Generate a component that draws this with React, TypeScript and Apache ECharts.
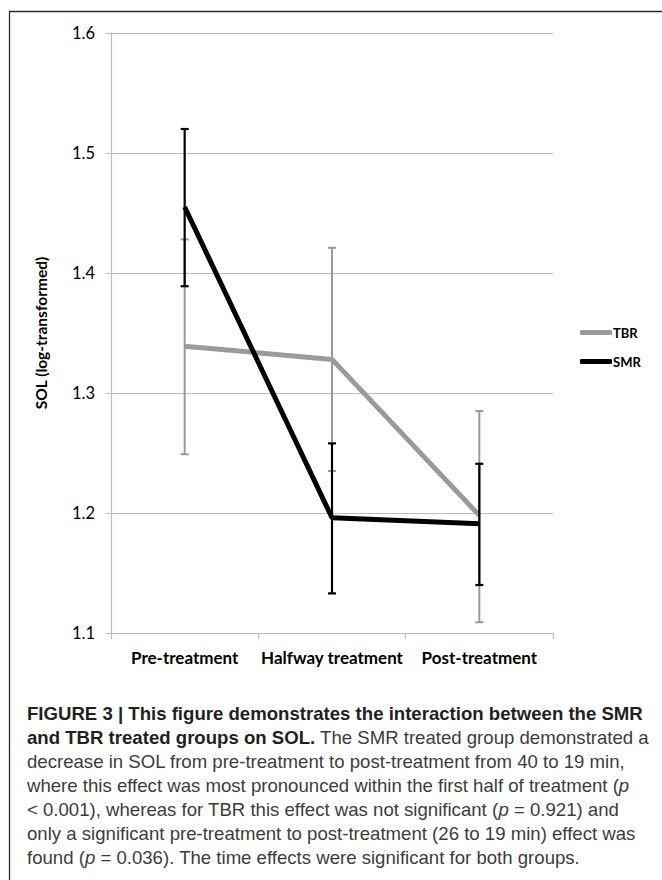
import React, { useEffect, useRef } from "react";
import * as echarts from "echarts";

const categories = ["Pre-treatment", "Halfway treatment", "Post-treatment"];
const seriesNames = ["TBR", "SMR"];
const tbrMean = [1.339, 1.328, 1.198];
const tbrUpper = [1.428, 1.421, 1.285];
const tbrLower = [1.249, 1.235, 1.109];
const smrMean = [1.455, 1.196, 1.191];
const smrUpper = [1.52, 1.258, 1.241];
const smrLower = [1.389, 1.133, 1.14];
const yTitle = "SOL (log-transformed)";

const captionLines: string[] = [
  "{b|FIGURE 3 | This figure demonstrates the interaction between the SMR}",
  "{b|and TBR treated groups on SOL.}{r| The SMR treated group demonstrated a}",
  "{r|decrease in SOL from pre-treatment to post-treatment from 40 to 19 min,}",
  "{r|where this effect was most pronounced within the first half of treatment (}{i|p}",
  "{r|< 0.001), whereas for TBR this effect was not significant (}{i|p}{r| = 0.921) and}",
  "{r|only a significant pre-treatment to post-treatment (26 to 19 min) effect was}",
  "{r|found (}{i|p}{r| = 0.036). The time effects were significant for both groups.}",
];

const GRAY = "#9a9a9a";
const BLACK = "#000000";
const GRID = "#bcbcbc";

function errRender(color: string, width: number) {
  return (params: any, api: any) => {
    const x = api.value(0);
    const lo = api.value(1);
    const hi = api.value(2);
    const pLo = api.coord([x, lo]);
    const pHi = api.coord([x, hi]);
    const half = 4;
    const style = { stroke: color, lineWidth: width };
    return {
      type: "group",
      children: [
        { type: "line", shape: { x1: pHi[0], y1: pHi[1], x2: pLo[0], y2: pLo[1] }, style },
        { type: "line", shape: { x1: pHi[0] - half, y1: pHi[1], x2: pHi[0] + half, y2: pHi[1] }, style },
        { type: "line", shape: { x1: pLo[0] - half, y1: pLo[1], x2: pLo[0] + half, y2: pLo[1] }, style },
      ],
    };
  };
}

export default function App() {
  const ref = useRef<HTMLDivElement>(null);
  useEffect(() => {
    if (!ref.current) return;
    const chart = echarts.init(ref.current, null, { renderer: "svg" });
    const capFont = "'Liberation Sans', Arial, sans-serif";
    const capSize = 18.6;
    const option: any = {
      animation: false,
      backgroundColor: "#ffffff",
      grid: { left: 111, right: 109, top: 33, bottom: 247 },
      legend: {
        orient: "vertical",
        left: 575,
        top: 321,
        itemWidth: 32,
        itemHeight: 5,
        itemGap: 16,
        textStyle: { fontFamily: "Lato", fontWeight: "bold", fontSize: 13, color: "#000", padding: [0, 0, 0, -4] },
        data: seriesNames.map((n) => ({ name: n, icon: "roundRect" })),
      },
      xAxis: {
        type: "category",
        data: categories,
        boundaryGap: true,
        axisLine: { show: true, lineStyle: { color: GRID, width: 1.2 } },
        axisTick: { show: true, length: 6, lineStyle: { color: GRID, width: 1.2 } },
        axisLabel: {
          interval: 0,
          margin: 16,
          fontFamily: "Lato",
          fontWeight: "bold",
          fontSize: 17,
          color: "#000",
        },
        splitLine: { show: false },
      },
      yAxis: {
        type: "value",
        min: 1.1,
        max: 1.6,
        interval: 0.1,
        name: yTitle,
        nameLocation: "middle",
        nameRotate: 90,
        nameGap: 62,
        nameTextStyle: { fontFamily: "Lato", fontWeight: "bold", fontSize: 15.5, color: "#000" },
        axisLine: { show: true, lineStyle: { color: GRID, width: 1.2 } },
        axisTick: { show: true, length: 5, lineStyle: { color: GRID, width: 1.2 } },
        axisLabel: {
          margin: 16,
          fontFamily: "Lato",
          fontSize: 16.5,
          color: "#000",
          formatter: (v: number) => v.toFixed(1),
        },
        splitLine: { show: true, lineStyle: { color: GRID, width: 1.2 } },
      },
      series: [
        {
          type: "custom",
          name: "TBR err",
          renderItem: errRender(GRAY, 2),
          data: categories.map((_, i) => [i, tbrLower[i], tbrUpper[i]]),
          z: 2,
          silent: true,
        },
        {
          type: "line",
          name: "TBR",
          data: tbrMean,
          symbol: "none",
          color: GRAY,
          lineStyle: { color: GRAY, width: 5 },
          z: 3,
        },
        {
          type: "custom",
          name: "SMR err",
          renderItem: errRender(BLACK, 2.2),
          data: categories.map((_, i) => [i, smrLower[i], smrUpper[i]]),
          z: 4,
          silent: true,
        },
        {
          type: "line",
          name: "SMR",
          data: smrMean,
          symbol: "none",
          color: BLACK,
          lineStyle: { color: BLACK, width: 5 },
          z: 5,
        },
      ],
      graphic: [
        {
          type: "polyline",
          shape: { points: [[9.5, 880], [9.5, 11.5], [662, 11.5]] },
          style: { stroke: "#2a2a2a", lineWidth: 1.3, fill: null },
          silent: true,
        },
        ...captionLines.map((line, i) => ({
          type: "text",
          x: 27,
          y: 713 + i * 24,
          style: {
            text: line,
            fontFamily: capFont,
            fontSize: capSize,
            verticalAlign: "middle",
            align: "left",
            rich: {
              b: { fontFamily: capFont, fontSize: capSize, fontWeight: "bold", fill: "#231f20" },
              r: { fontFamily: capFont, fontSize: capSize, fill: "#3c3c3c" },
              i: { fontFamily: capFont, fontSize: capSize, fontStyle: "italic", fill: "#3c3c3c" },
            },
          },
        })),
      ],
    };
    chart.setOption(option);
    return () => chart.dispose();
  }, []);
  return (
    <div style={{ position: "fixed", left: 0, top: 0, width: 662, height: 880, background: "#fff" }}>
      <div ref={ref} style={{ width: 662, height: 880 }} />
    </div>
  );
}
